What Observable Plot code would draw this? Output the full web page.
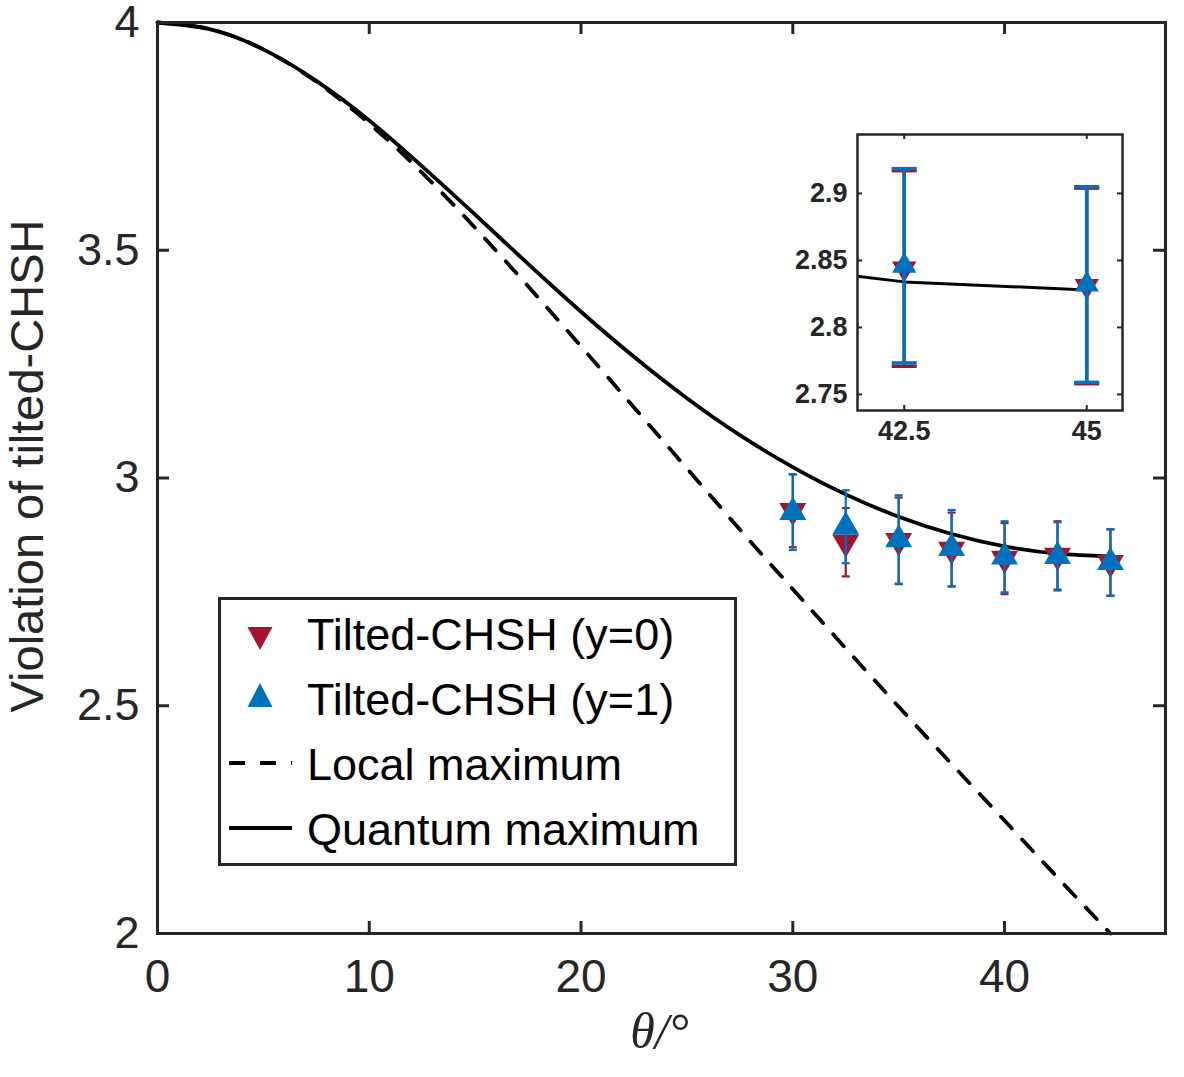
<!DOCTYPE html>
<html>
<head>
<meta charset="utf-8">
<script src="https://cdn.jsdelivr.net/npm/d3@7"></script>
<script src="https://cdn.jsdelivr.net/npm/@observablehq/plot@0.6"></script>
<style>
  body { margin: 0; background: #fff; }
  #wrap { position: relative; width: 1184px; height: 1077px; font-family: "Liberation Sans", Arial, sans-serif; }
  #wrap > * { position: absolute; }
</style>
</head>
<body>
<div id="wrap"></div>
<script>
// ---- data ----
const theta      = [0, 2.5, 5, 7.5, 10, 12.5, 15, 17.5, 20, 22.5, 25, 27.5, 30, 32.5, 35, 37.5, 40, 42.5, 45];
const quantumMax = [4.000, 3.985, 3.941, 3.872, 3.785, 3.684, 3.578, 3.470, 3.365, 3.266, 3.175, 3.094, 3.024, 2.964, 2.915, 2.877, 2.850, 2.834, 2.828];
const localMax   = [4.000, 3.985, 3.941, 3.870, 3.778, 3.670, 3.549, 3.421, 3.289, 3.155, 3.021, 2.887, 2.756, 2.626, 2.498, 2.372, 2.248, 2.123, 2.000];

const thetaExp = [30, 32.5, 35, 37.5, 40, 42.5, 45];
const y0Value  = [2.928, 2.859, 2.862, 2.843, 2.823, 2.830, 2.814];
const y0Err    = [0.080, 0.075, 0.095, 0.081, 0.078, 0.075, 0.073];
const y1Value  = [2.925, 2.893, 2.865, 2.846, 2.827, 2.828, 2.815];
const y1Err    = [0.083, 0.080, 0.097, 0.084, 0.078, 0.075, 0.073];

const insetTheta  = [42.5, 45];
const insetY0     = [2.844, 2.831];
const insetY0Err  = [0.073, 0.073];
const insetY1     = [2.846, 2.832];
const insetY1Err  = [0.0725, 0.073];

const xTicks = [0, 10, 20, 30, 40];
const xTickLabels = ["0", "10", "20", "30", "40"];
const yTicks = [2, 2.5, 3, 3.5, 4];
const yTickLabels = ["2", "2.5", "3", "3.5", "4"];
const insetXTicks = [42.5, 45];
const insetXTickLabels = ["42.5", "45"];
const insetYTicks = [2.75, 2.8, 2.85, 2.9];
const insetYTickLabels = ["2.75", "2.8", "2.85", "2.9"];

const seriesNames = ["Tilted-CHSH (y=0)", "Tilted-CHSH (y=1)", "Local maximum", "Quantum maximum"];
const xLabel = "θ/°";
const yLabel = "Violation of tilted-CHSH";

// ---- styles ----
const RED = "#A2142F", BLUE = "#0072BD", AXIS = "#262626";

const curveRows = theta.map((t, i) => ({theta: t, quantum: quantumMax[i], local: localMax[i]}));
const mkRows = (xs, vs, es) => xs.map((t, i) => ({theta: t, v: vs[i], lo: vs[i] - es[i], hi: vs[i] + es[i]}));
const rows0 = mkRows(thetaExp, y0Value, y0Err);
const rows1 = mkRows(thetaExp, y1Value, y1Err);
const irows0 = mkRows(insetTheta, insetY0, insetY0Err);
const irows1 = mkRows(insetTheta, insetY1, insetY1Err);

const capSymbol = {draw(ctx, size) { const w = Math.sqrt(size / Math.PI); ctx.moveTo(-w, 0); ctx.lineTo(w, 0); }};

function errMarks(rows, color, r, capR, sw, rotate) {
  return [
    Plot.ruleX(rows, {x: "theta", y1: "lo", y2: "hi", stroke: color, strokeWidth: sw}),
    Plot.dot(rows, {x: "theta", y: "lo", symbol: capSymbol, r: capR, stroke: color, fill: "none", strokeWidth: sw}),
    Plot.dot(rows, {x: "theta", y: "hi", symbol: capSymbol, r: capR, stroke: color, fill: "none", strokeWidth: sw}),
    Plot.dot(rows, {x: "theta", y: "v", symbol: "triangle", r, fill: color, stroke: "none", rotate})
  ];
}

function boxTicks(xt, yt, fw, fh, len, sw) {
  return [
    Plot.tickX(xt, {x: d => d, insetTop: fh - len, stroke: AXIS, strokeWidth: sw}),
    Plot.tickX(xt, {x: d => d, insetBottom: fh - len, stroke: AXIS, strokeWidth: sw}),
    Plot.tickY(yt, {y: d => d, insetRight: fw - len, stroke: AXIS, strokeWidth: sw}),
    Plot.tickY(yt, {y: d => d, insetLeft: fw - len, stroke: AXIS, strokeWidth: sw})
  ];
}

// ---- main chart ----
const W = 1184, H = 1077, mL = 157, mR = 19, mT = 22, mB = 144;
const fw = W - mL - mR, fh = H - mT - mB;

const main = Plot.plot({
  width: W, height: H,
  marginLeft: mL, marginRight: mR, marginTop: mT, marginBottom: mB,
  style: {fontFamily: "'Liberation Sans', Arial, sans-serif", color: AXIS, background: "white", overflow: "visible"},
  x: {domain: [0, 47.6]},
  y: {domain: [2, 4]},
  marks: [
    Plot.line(curveRows, {x: "theta", y: "local", stroke: "black", strokeWidth: 3.8, strokeDasharray: "16,15", curve: "natural"}),
    Plot.line(curveRows, {x: "theta", y: "quantum", stroke: "black", strokeWidth: 3.8, curve: "natural"}),
    ...errMarks(rows0, RED, 10, 4, 2.2, 180),
    ...errMarks(rows1, BLUE, 10, 4, 2.2, 0),
    ...boxTicks(xTicks, yTicks, fw, fh, 12, 3),
    Plot.axisX({ticks: xTicks, tickSize: 0, tickPadding: 26, fontSize: 46, label: null,
                tickFormat: d => xTickLabels[xTicks.indexOf(d)]}),
    Plot.axisY({ticks: yTicks, tickSize: 0, tickPadding: 18, fontSize: 45, label: null,
                tickFormat: d => yTickLabels[yTicks.indexOf(d)]}),
    Plot.text([yLabel], {text: d => d, frameAnchor: "left", textAnchor: "middle", rotate: -90, dx: -130, dy: -12,
                         fontSize: 47, fill: AXIS}),
    Plot.text([xLabel], {text: d => d, frameAnchor: "bottom", textAnchor: "middle", dx: -2, dy: 114, fontSize: 50,
                         fontFamily: "'Liberation Serif', serif", fontStyle: "italic", fill: AXIS}),
    Plot.frame({stroke: AXIS, strokeWidth: 3})
  ]
});
main.style.left = "0px"; main.style.top = "0px";

// ---- inset chart ----
const iW = 360, iH = 335, imL = 77, imR = 18, imT = 14, imB = 45;
const ifw = iW - imL - imR, ifh = iH - imT - imB;
const inset = Plot.plot({
  width: iW, height: iH,
  marginLeft: imL, marginRight: imR, marginTop: imT, marginBottom: imB,
  style: {fontFamily: "'Liberation Sans', Arial, sans-serif", color: AXIS, background: "transparent"},
  x: {domain: [41.86, 45.49]},
  y: {domain: [2.738, 2.944]},
  marks: [
    Plot.line(curveRows, {x: "theta", y: "quantum", stroke: "black", strokeWidth: 3, clip: true}),
    ...errMarks(irows0, RED, 9, 12.5, 3.5, 180),
    ...errMarks(irows1, BLUE, 9, 12.5, 3.5, 0),
    ...boxTicks(insetXTicks, insetYTicks, ifw, ifh, 5, 2),
    Plot.axisX({ticks: insetXTicks, tickSize: 0, tickPadding: 10, fontSize: 27, fontWeight: "bold", label: null,
                tickFormat: d => insetXTickLabels[insetXTicks.indexOf(d)]}),
    Plot.axisY({ticks: insetYTicks, tickSize: 0, tickPadding: 10, fontSize: 27, fontWeight: "bold", label: null,
                tickFormat: d => insetYTickLabels[insetYTicks.indexOf(d)]}),
    Plot.frame({stroke: AXIS, strokeWidth: 2.5})
  ]
});
inset.style.left = "780px"; inset.style.top = "120px";

// ---- legend ----
const legend = document.createElement("div");
legend.style.left = "218px"; legend.style.top = "597px";
legend.innerHTML = `
<svg width="519" height="269" xmlns="http://www.w3.org/2000/svg" style="display:block">
  <rect x="1.5" y="1.5" width="516" height="266" fill="white" stroke="${AXIS}" stroke-width="3"/>
  <path d="M29.5,30 L54.5,30 L42,53 Z" fill="${RED}"/>
  <path d="M42,86 L29.5,110 L54.5,110 Z" fill="${BLUE}"/>
  <line x1="11" y1="166" x2="74" y2="166" stroke="black" stroke-width="3.8" stroke-dasharray="16,15"/>
  <line x1="11" y1="231" x2="74" y2="231" stroke="black" stroke-width="3.8"/>
  <g font-family="'Liberation Sans', Arial, sans-serif" font-size="45" fill="black">
    <text x="89" y="53">${seriesNames[0]}</text>
    <text x="89" y="118">${seriesNames[1]}</text>
    <text x="89" y="183">${seriesNames[2]}</text>
    <text x="89" y="248">${seriesNames[3]}</text>
  </g>
</svg>`;

const wrap = document.getElementById("wrap");
wrap.appendChild(main);
wrap.appendChild(inset);
wrap.appendChild(legend);
</script>
</body>
</html>
